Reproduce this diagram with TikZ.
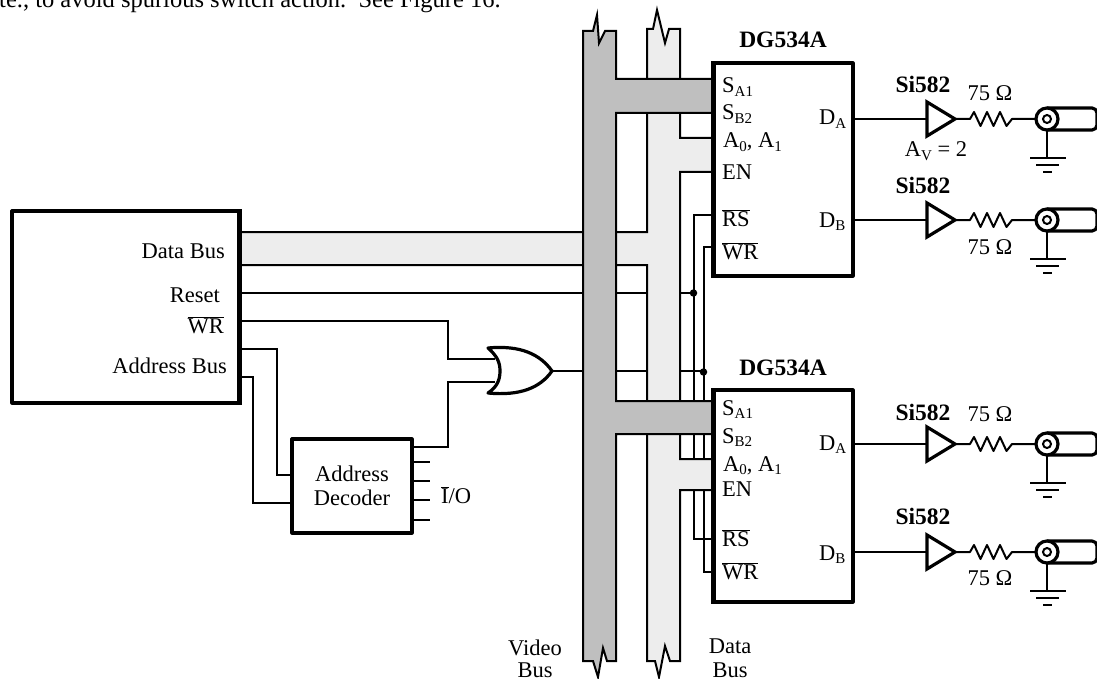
\documentclass[tikz,border=0pt]{standalone}
\usepackage{fontspec}
\setmainfont{Liberation Serif}
\usetikzlibrary{positioning}
\definecolor{videogray}{gray}{0.75}
\definecolor{datagray}{gray}{0.93}
\newcommand{\subtxt}[1]{\raisebox{-3.5pt}{\fontsize{15}{15}\selectfont #1}}
\tikzset{
  wire/.style={line width=2pt},
  heavy/.style={line width=3.2pt,line join=round},
  pinlabel/.style={anchor=base west,inner sep=0pt},
  partname/.style={inner sep=0pt,font=\fontsize{23.5}{26}\selectfont\bfseries},
  dotjoin/.style={circle,fill=black,inner sep=0pt,minimum size=7.5pt}
}
\begin{document}
\begin{tikzpicture}[x=1pt,y=-1pt,font=\fontsize{22.5}{24}\selectfont]
  \useasboundingbox (0,0) rectangle (1097,679);
  \node[anchor=base west,inner sep=0pt,font=\fontsize{24.5}{26}\selectfont] (topline) at (-1,8) {te., to avoid spurious switch action.\ \ See Figure 16.};
  % boxes
  \node[heavy,draw,minimum width=227pt,minimum height=192pt,inner sep=0pt] (host) at (125.5,307) {};
  \node[heavy,draw,minimum width=120pt,minimum height=94pt,inner sep=0pt,align=center] (decoder) at (352,486) {Address\\Decoder};
  \node[heavy,draw,minimum width=139pt,minimum height=213pt,inner sep=0pt] (chipA) at (783.5,169.5) {};
  \node[heavy,draw,minimum width=139pt,minimum height=212pt,inner sep=0pt] (chipB) at (783.5,496) {};
  % plain wires, the buses are filled over them
  \node[dotjoin] (dotRS) at (693.5,293) {};
  \node[dotjoin] (dotWR) at (703.5,372) {};
  \coordinate (orTop) at (495,359);
  \coordinate (orBot) at (495,382);
  \coordinate (orOut) at (552,371);
  \draw[wire] (host.east |- dotRS) -- (dotRS);
  \draw[wire] (orOut) -- (orOut -| dotWR) -- (dotWR);
  \coordinate (rsA) at (714,215);
  \coordinate (wrA) at (714,247);
  \coordinate (rsB) at (714,539);
  \coordinate (wrB) at (714,572);
  \draw[wire] (rsA) -- (rsA -| dotRS) -- (rsB -| dotRS) -- (rsB);
  \draw[wire] (wrA) -- (wrA -| dotWR) -- (wrB -| dotWR) -- (wrB);
  \draw[wire] (239,321) -- (448,321) -- (448,359) -- (orTop);
  \draw[wire] (239,349) -- (277,349) -- (277,475) -- (decoder.west |- 0,475);
  \draw[wire] (239,377) -- (253,377) -- (253,503) -- (decoder.west |- 0,503);
  \draw[wire] (decoder.east |- 0,447) -- (448,447) -- (448,382) -- (orBot);
  \foreach \y in {462,481,500,520}
    \draw[wire] (decoder.east |- 0,\y) -- ++(16,0);
  \node[inner sep=0pt] (iolabel) at (456,495) {$\overline{\mbox{I}}$/O};
  % or gate
  \draw[heavy,fill=white] (488,348) .. controls (497,356) and (500,362) .. (500,371)
    .. controls (500,380) and (497,387) .. (488,393)
    .. controls (520,396) and (540,388) .. (orOut)
    .. controls (540,354) and (520,345) .. cycle;
  % data bus
  \draw[wire,fill=datagray] (647,29) -- (653,29) -- (657,10) -- (665,43) -- (669,29) -- (680,29)
    -- (680,138) -- (714,138) -- (714,172) -- (680,172) -- (680,459) -- (714,459) -- (714,490) -- (680,490)
    -- (680,661) -- (670,661) -- (665,646) -- (659,677) -- (655,661) -- (647,661)
    -- (647,265) -- (239,265) -- (239,232) -- (647,232) -- cycle;
  % video bus
  \draw[wire,fill=videogray] (583,31) -- (593,31) -- (597,15) -- (599,43) -- (605,31) -- (616,31)
    -- (616,79) -- (714,79) -- (714,113) -- (616,113) -- (616,401) -- (714,401) -- (714,434) -- (616,434)
    -- (616,661) -- (607,661) -- (603,648) -- (598,677) -- (593,661) -- (583,661) -- cycle;
  \draw[heavy] (chipA.north west) -- (chipA.south west);
  \draw[heavy] (chipB.north west) -- (chipB.south west);
  \draw[heavy] (host.north east) -- (host.south east);
  % output stages
  \foreach \y/\chip in {119/chipA,220/chipA,444/chipB,552/chipB}{
    \coordinate (bufIn\y) at (927,\y);
    \coordinate (bufOut\y) at (955,\y);
    \coordinate (coax\y) at (1047,\y);
    \draw[wire] (\chip.east |- bufIn\y) -- (bufIn\y);
    \draw[heavy,line join=miter] (927,\y-17) -- (bufOut\y) -- (927,\y+17) -- cycle;
    \draw[wire,line join=round] (bufOut\y) -- (970,\y) -- ++(4,-7) -- ++(6.5,14) -- ++(6.5,-14) -- ++(6.5,14) -- ++(6.5,-14) -- ++(6.5,14) -- (1012,\y) -- (coax\y);
    \draw[heavy,rounded corners=5pt] (1047,\y-11) -- (1097,\y-11) -- (1097,\y+11) -- (1047,\y+11);
    \draw[heavy,fill=white] (coax\y) circle[radius=11];
    \draw[wire,fill=white] (coax\y) circle[radius=4];
    \draw[wire] (1047,\y+11) -- (1047,\y+39);
    \draw[wire] (1030,\y+39) -- (1066,\y+39);
    \draw[wire] (1036,\y+46) -- (1059,\y+46);
    \draw[wire] (1043,\y+53) -- (1052,\y+53);
  }
  % part names
  \node[partname] (nameA) at (783,40) {DG534A};
  \node[partname] (nameB) at (783,368) {DG534A};
  \foreach \y/\n in {84/a,185/b,412/c,516/d}
    \node[partname] (si\n) at (923,\y) {Si582};
  \foreach \y/\n in {93/a,247/b,414/c,578/d}
    \node[inner sep=0pt] (ohm\n) at (990,\y) {75 Ω};
  \node[inner sep=0pt] (gain) at (936,151) {A\subtxt{V} = 2};
  % pin labels
  \foreach \ya/\yb/\x/\l/\n in {93/415/722/S\subtxt{A1}/sa,120/443/722/S\subtxt{B2}/sb,148/471/723/A\subtxt{0}{,} A\subtxt{1}/ad,180/496/722/EN/en,226/546/722/$\overline{\mbox{RS}}$/rs,259/579/722/$\overline{\mbox{WR}}$/wr,125/450/819/D\subtxt{A}/da,227/560/819/D\subtxt{B}/db}{
    \node[pinlabel] (\n A) at (\x,\ya) {\l};
    \node[pinlabel] (\n B) at (\x,\yb) {\l};
  }
  \foreach \y/\l/\x/\n in {258/Data Bus/225/data,302/Reset/220/reset,333/$\overline{\mbox{WR}}$/224/wr,373/Address Bus/227/addr}
    \node[anchor=base east,inner sep=0pt] (host\n) at (\x,\y) {\l};
  \node[align=center,inner sep=0pt,anchor=base] (videolabel) at (535,677) {Video\\[-2pt]Bus};
  \node[align=center,inner sep=0pt,anchor=base] (datalabel) at (730,677) {Data\\Bus};
\end{tikzpicture}
\end{document}
